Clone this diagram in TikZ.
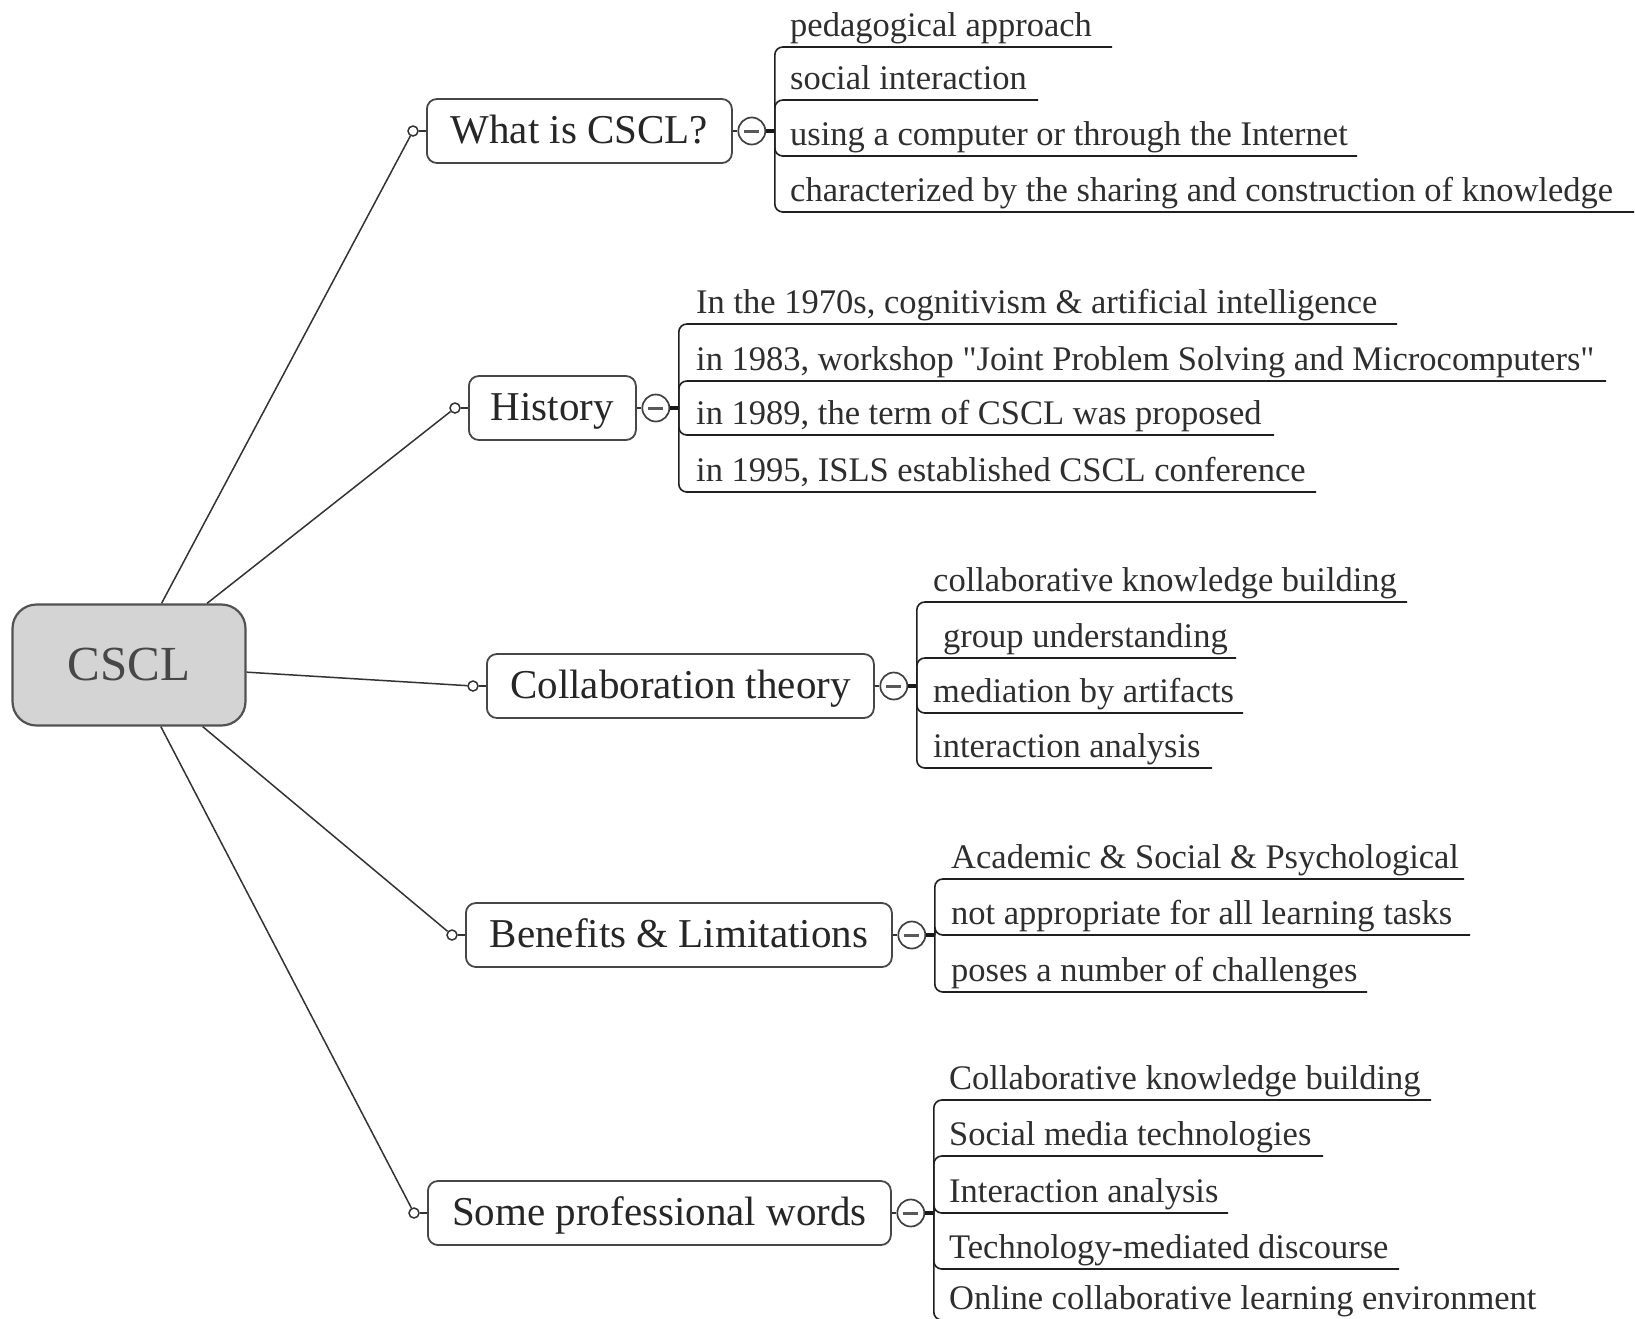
\documentclass[tikz,border=0pt]{standalone}
\usepackage{fontspec}
\setmainfont{Liberation Serif}[Ligatures=TeXOff]
\newcommand\mmleaf[6]{%
  \node[leaftext] (#1) at (#3,#4-11) {#6};
  \coordinate (#1e) at (#5,#4);
  \draw[uline] (#2) |- (#1e);
}
\newcommand\mmbranch[5]{%
  % #1 name, #2 west x, #3 center y, #4 width, #5 text
  \node[branch, minimum width=#4pt] (b#1) at (#2,#3) {#5};
  \node[dot] (d#1) at ([xshift=-13pt]b#1.west) {};
  \node[minus] (m#1) at ([xshift=19pt]b#1.east) {};
  \coordinate (j#1) at ([xshift=23pt]m#1.center);
  \draw[stub] (d#1) -- (b#1.west);
  \draw[stub] (b#1.east) -- (m#1);
  \draw[thickstub] (m#1) -- (j#1);
  \draw[conn] (cscl) -- (d#1);
}
\begin{document}
\begin{tikzpicture}[x=1pt,y=-1pt,
  central/.style={draw=black!68, line width=2.2pt, fill=black!17, rounded corners=24pt,
    minimum width=233pt, minimum height=121pt, inner sep=0pt,
    font=\fontsize{49}{55}\selectfont, text=black!72},
  branch/.style={draw=black!72, line width=1.8pt, fill=white, rounded corners=10pt,
    minimum height=64pt, inner xsep=10pt, font=\fontsize{41}{48}\selectfont,
    text=black!85, text height=29pt, text depth=5pt, anchor=west},
  dot/.style={circle, draw=black!80, line width=1.5pt, fill=white, minimum size=10pt, inner sep=0pt},
  minus/.style={circle, draw=black!75, line width=1.7pt, fill=white, minimum size=27pt, inner sep=0pt,
    path picture={\draw[black!65, line width=3pt]
      ([xshift=-7.5pt]path picture bounding box.center) -- ([xshift=7.5pt]path picture bounding box.center);}},
  conn/.style={draw=black!80, line width=1.5pt},
  stub/.style={draw=black!80, line width=1.5pt},
  thickstub/.style={draw=black!90, line width=3.5pt},
  uline/.style={draw=black!88, line width=1.6pt, rounded corners=8pt},
  leaftext/.style={anchor=base west, inner sep=0pt, font=\fontsize{34.5}{40}\selectfont, text=black!82}]
\useasboundingbox (0,0) rectangle (1635,1318);
\fill[white] (0,0) rectangle (1635,1318);

\node[central] (cscl) at (129,665) {CSCL};

\mmbranch{1}{426}{131}{305}{What is CSCL?}
\mmbranch{2}{468}{408}{167}{History}
\mmbranch{3}{486}{686}{387}{Collaboration theory}
\mmbranch{4}{465}{935}{426}{Benefits \& Limitations}
\mmbranch{5}{427}{1213}{463}{Some professional words}

% group 1
\mmleaf{l11}{j1}{790}{47}{1112}{pedagogical approach}
\mmleaf{l12}{j1}{790}{100}{1038}{social interaction}
\mmleaf{l13}{j1}{790}{156}{1357}{using a computer or through the Internet}
\mmleaf{l14}{j1}{790}{212}{1634}{characterized by the sharing and construction of knowledge}
% group 2
\mmleaf{l21}{j2}{696}{324}{1397}{In the 1970s, cognitivism \& artificial intelligence}
\mmleaf{l22}{j2}{696}{381}{1606}{in 1983, workshop "Joint Problem Solving and Microcomputers"}
\mmleaf{l23}{j2}{696}{435}{1274}{in 1989, the term of CSCL was proposed}
\mmleaf{l24}{j2}{696}{492}{1316}{in 1995, ISLS established CSCL conference}
% group 3
\mmleaf{l31}{j3}{933}{602}{1407}{collaborative knowledge building}
\mmleaf{l32}{j3}{943}{658}{1236}{group understanding}
\mmleaf{l33}{j3}{933}{713}{1243}{mediation by artifacts}
\mmleaf{l34}{j3}{933}{768}{1212}{interaction analysis}
% group 4
\mmleaf{l41}{j4}{951}{879}{1464}{Academic \& Social \& Psychological}
\mmleaf{l42}{j4}{951}{935}{1470}{not appropriate for all learning tasks}
\mmleaf{l43}{j4}{951}{992}{1367}{poses a number of challenges}
% group 5
\mmleaf{l51}{j5}{949}{1100}{1431}{Collaborative knowledge building}
\mmleaf{l52}{j5}{949}{1156}{1323}{Social media technologies}
\mmleaf{l53}{j5}{949}{1213}{1228}{Interaction analysis}
\mmleaf{l54}{j5}{949}{1269}{1399}{Technology-mediated discourse}
\mmleaf{l55}{j5}{949}{1320}{1560}{Online collaborative learning environment}
\end{tikzpicture}
\end{document}
